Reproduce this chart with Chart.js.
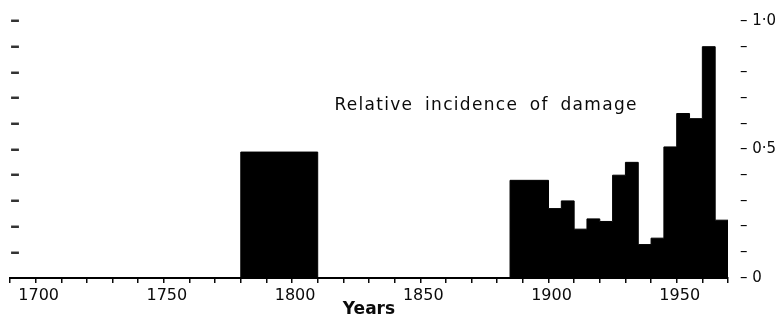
<!DOCTYPE html>
<html>
<head>
<meta charset="utf-8">
<title>Relative incidence of damage</title>
<script src="https://cdn.jsdelivr.net/npm/chart.js@4.4.1/dist/chart.umd.min.js"></script>
<style>
  html, body { margin: 0; padding: 0; background: #fff; }
  #wrap { position: relative; width: 782px; height: 320px; }
</style>
</head>
<body>
<div id="wrap"><canvas id="damageChart"></canvas></div>
<script>
// --- Data ---

const binStart = [1780, 1885, 1900, 1905, 1910, 1915, 1920, 1925, 1930, 1935, 1940, 1945, 1950, 1955, 1960, 1965];
const binEnd = [1810, 1900, 1905, 1910, 1915, 1920, 1925, 1930, 1935, 1940, 1945, 1950, 1955, 1960, 1965, 1970];
const incidence = [0.49, 0.38, 0.27, 0.30, 0.19, 0.23, 0.22, 0.40, 0.45, 0.13, 0.155, 0.51, 0.64, 0.62, 0.90, 0.225];

const yearMin = 1690;
const yearMax = 1970;
const yearLabels = [1700, 1750, 1800, 1850, 1900, 1950];
const rightLabels = { 0: "0", 5: "0·5", 10: "1·0" };

const annotationText = "Relative incidence of damage";
const axisTitle = "Years";

const FONT = "'DejaVu Sans', sans-serif";
const INK = "#0a0a0a";

// step outline: each point's value holds until the next point
function buildSteps() {
  const pts = [{ x: yearMin, y: 0 }];
  binStart.forEach((start, i) => {
    pts.push({ x: start, y: incidence[i] });
    const next = binStart[i + 1];
    if (next === undefined || next !== binEnd[i]) {
      pts.push({ x: binEnd[i], y: 0 });
    }
  });
  return pts;
}

const annotationPlugin = {
  id: "annotationText",
  afterDatasetsDraw(chart) {
    const { ctx, scales } = chart;
    ctx.save();
    ctx.font = "17px " + FONT;
    ctx.fillStyle = INK;
    ctx.textBaseline = "middle";
    ctx.textAlign = "left";
    ctx.letterSpacing = "1.3px";
    ctx.wordSpacing = "5px";
    ctx.fillText(annotationText, scales.x.getPixelForValue(1816.5), scales.y.getPixelForValue(0.67));
    ctx.restore();
  },
};

const ctx = document.getElementById("damageChart");

new Chart(ctx, {
  type: "line",
  data: {
    datasets: [
      {
        data: buildSteps(),
        stepped: "before",
        fill: "origin",
        backgroundColor: "#000",
        borderColor: "#000",
        borderWidth: 1,
        pointRadius: 0,
        yAxisID: "y",
      },
    ],
  },
  options: {
    responsive: true,
    maintainAspectRatio: false,
    animation: false,
    layout: { padding: { top: 20, left: 0, right: 0, bottom: 0 } },
    plugins: {
      legend: { display: false },
      tooltip: { enabled: false },
    },
    scales: {
      x: {
        type: "linear",
        min: yearMin,
        max: yearMax,
        afterFit: (scale) => { scale.height = 42; },
        border: { display: true, color: "#000", width: 2 },
        grid: {
          display: true,
          drawOnChartArea: false,
          drawTicks: true,
          tickLength: 5,
          color: INK,
          lineWidth: 1.5,
        },
        ticks: {
          stepSize: 10,
          autoSkip: false,
          maxRotation: 0,
          padding: 3,
          labelOffset: 3,
          color: INK,
          font: { family: FONT, size: 16 },
          callback: (value) => (yearLabels.includes(value) ? String(value) : ""),
        },
        title: {
          display: true,
          text: axisTitle,
          color: INK,
          font: { family: FONT, size: 17, weight: "bold" },
          padding: { top: 0, bottom: 0 },
        },
      },
      yL: {
        position: "left",
        min: 0,
        max: 1,
        afterFit: (scale) => { scale.width = 10; },
        border: { display: false },
        grid: { display: false, drawTicks: false },
        ticks: {
          stepSize: 0.1,
          autoSkip: false,
          mirror: true,
          padding: 0,
          color: "#333",
          font: { family: FONT, size: 20, weight: "bold" },
          callback: (value) => (Math.round(value * 10) === 0 ? "" : "–"),
        },
      },
      y: {
        position: "right",
        min: 0,
        max: 1,
        afterFit: (scale) => { scale.width = 54; },
        border: { display: false },
        grid: { display: false, drawTicks: false },
        ticks: {
          stepSize: 0.1,
          autoSkip: false,
          padding: 12,
          color: INK,
          font: { family: FONT, size: 15 },
          callback: (value) => {
            const k = Math.round(value * 10);
            return rightLabels[k] !== undefined ? "– " + rightLabels[k] : "–";
          },
        },
      },
    },
  },
  plugins: [annotationPlugin],
});
</script>
</body>
</html>
